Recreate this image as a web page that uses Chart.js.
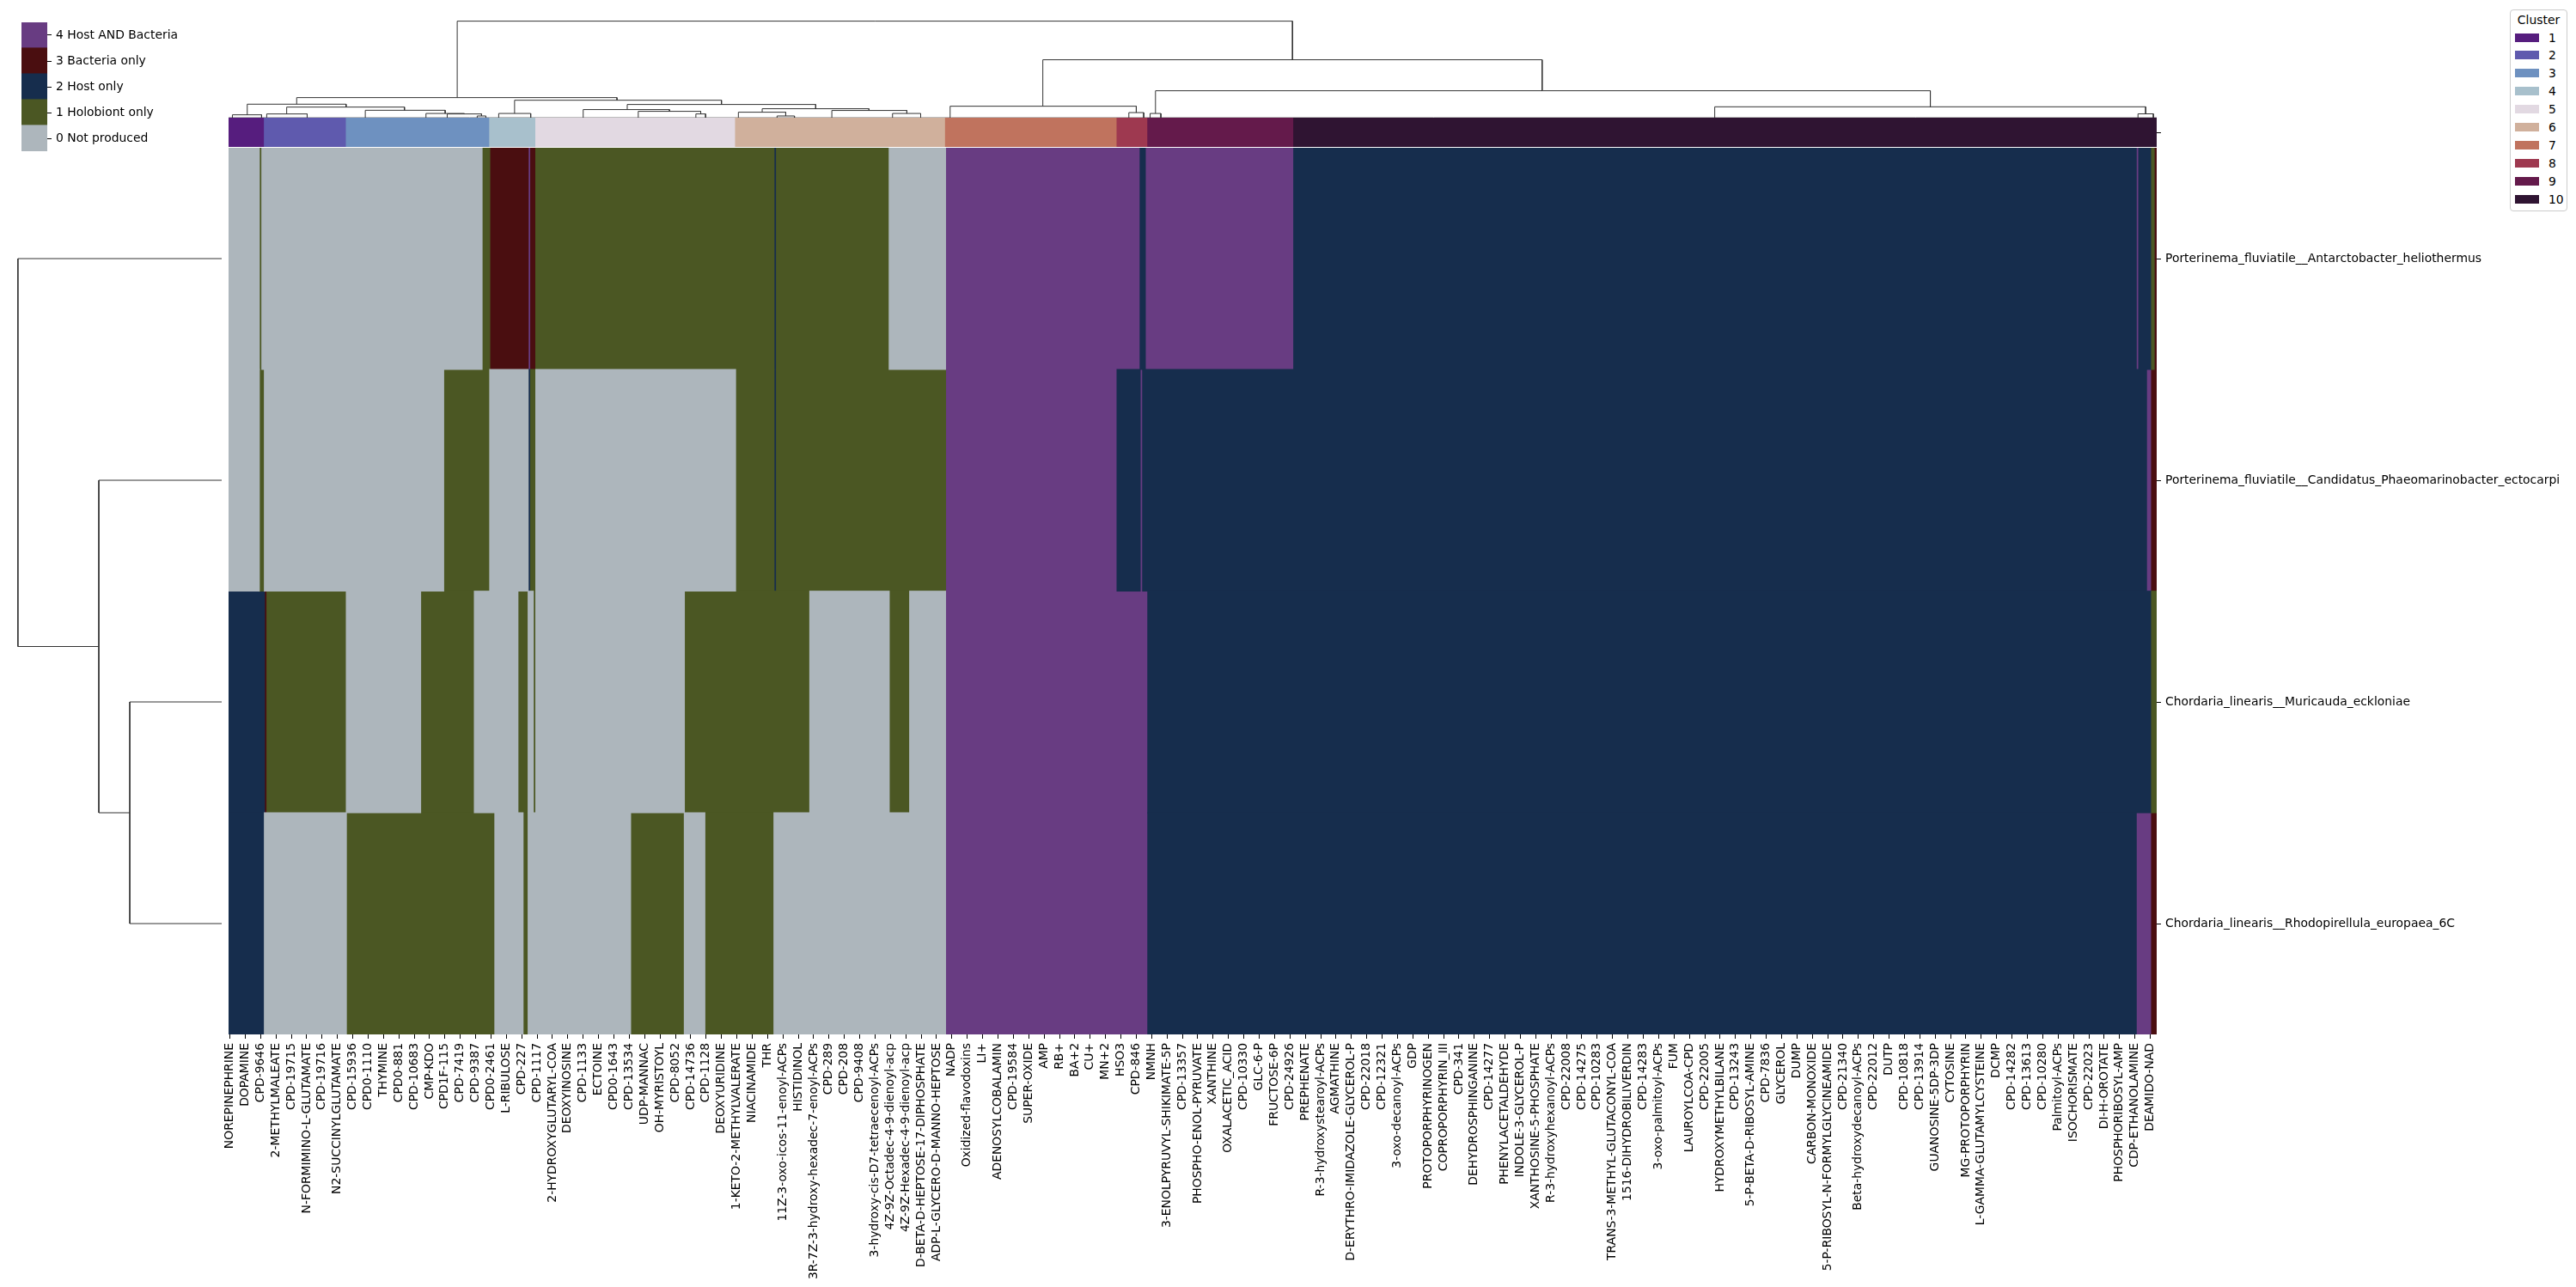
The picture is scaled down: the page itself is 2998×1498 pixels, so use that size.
<!DOCTYPE html>
<html>
<head>
<meta charset="utf-8">
<script src="https://cdn.jsdelivr.net/npm/chart.js@4/dist/chart.umd.min.js"></script>
<style>
  html, body { margin: 0; padding: 0; background: #fff; }
  #page { position: relative; width: 2998px; height: 1498px; overflow: hidden; font-family: "DejaVu Sans", sans-serif; color: #000; }
  #page canvas { position: absolute; }
  #clusterLegend { position: absolute; left: 2921px; top: 11px; width: 67px; height: 235px; box-sizing: border-box;
    border: 1px solid #cccccc; border-radius: 4px; font-size: 13.9px; }
  #clusterLegend .title { position: absolute; left: 0; right: 0; top: 3px; text-align: center; }
  #clusterLegend .swatch { position: absolute; left: 5px; width: 28px; height: 10px; }
  #clusterLegend .name { position: absolute; left: 44px; line-height: 16px; }
</style>
</head>
<body>
<div id="page"><div id="clusterLegend"></div></div>
<script>
// ---- data ----
const rowNames = [
    'Porterinema_fluviatile__Antarctobacter_heliothermus',
    'Porterinema_fluviatile__Candidatus_Phaeomarinobacter_ectocarpi',
    'Chordaria_linearis__Muricauda_eckloniae',
    'Chordaria_linearis__Rhodopirellula_europaea_6C'
];
const stateLabels = ['0 Not produced', '1 Holobiont only', '2 Host only', '3 Bacteria only', '4 Host AND Bacteria'];
const stateColors = ['#adb6bc', '#4b5723', '#162d4d', '#4a0e10', '#683c82'];

const nColumns = 753;
const labelStep = 6;   // only every 6th compound is labelled
const columnLabels = [
    'NOREPINEPHRINE', 'DOPAMINE', 'CPD-9646', '2-METHYLMALEATE', 'CPD-19715', 'N-FORMIMINO-L-GLUTAMATE',
    'CPD-19716', 'N2-SUCCINYLGLUTAMATE', 'CPD-15936', 'CPD0-1110', 'THYMINE', 'CPD0-881', 'CPD-10683',
    'CMP-KDO', 'CPD1F-115', 'CPD-7419', 'CPD-9387', 'CPD0-2461', 'L-RIBULOSE', 'CPD-227', 'CPD-1117',
    '2-HYDROXYGLUTARYL-COA', 'DEOXYINOSINE', 'CPD-1133', 'ECTOINE', 'CPD0-1643', 'CPD-13534', 'UDP-MANNAC',
    'OH-MYRISTOYL', 'CPD-8052', 'CPD-14736', 'CPD-1128', 'DEOXYURIDINE', '1-KETO-2-METHYLVALERATE',
    'NIACINAMIDE', 'THR', '11Z-3-oxo-icos-11-enoyl-ACPs', 'HISTIDINOL', '3R-7Z-3-hydroxy-hexadec-7-enoyl-ACPs',
    'CPD-289', 'CPD-208', 'CPD-9408', '3-hydroxy-cis-D7-tetraecenoyl-ACPs', '4Z-9Z-Octadec-4-9-dienoyl-acp',
    '4Z-9Z-Hexadec-4-9-dienoyl-acp', 'D-BETA-D-HEPTOSE-17-DIPHOSPHATE', 'ADP-L-GLYCERO-D-MANNO-HEPTOSE',
    'NADP', 'Oxidized-flavodoxins', 'LI+', 'ADENOSYLCOBALAMIN', 'CPD-19584', 'SUPER-OXIDE', 'AMP', 'RB+',
    'BA+2', 'CU+', 'MN+2', 'HSO3', 'CPD-846', 'NMNH', '3-ENOLPYRUVYL-SHIKIMATE-5P', 'CPD-13357',
    'PHOSPHO-ENOL-PYRUVATE', 'XANTHINE', 'OXALACETIC_ACID', 'CPD-10330', 'GLC-6-P', 'FRUCTOSE-6P',
    'CPD-24926', 'PREPHENATE', 'R-3-hydroxystearoyl-ACPs', 'AGMATHINE', 'D-ERYTHRO-IMIDAZOLE-GLYCEROL-P',
    'CPD-22018', 'CPD-12321', '3-oxo-decanoyl-ACPs', 'GDP', 'PROTOPORPHYRINOGEN', 'COPROPORPHYRIN_III',
    'CPD-341', 'DEHYDROSPHINGANINE', 'CPD-14277', 'PHENYLACETALDEHYDE', 'INDOLE-3-GLYCEROL-P',
    'XANTHOSINE-5-PHOSPHATE', 'R-3-hydroxyhexanoyl-ACPs', 'CPD-22008', 'CPD-14275', 'CPD-10283',
    'TRANS-3-METHYL-GLUTACONYL-COA', '1516-DIHYDROBILIVERDIN', 'CPD-14283', '3-oxo-palmitoyl-ACPs', 'FUM',
    'LAUROYLCOA-CPD', 'CPD-22005', 'HYDROXYMETHYLBILANE', 'CPD-13243', '5-P-BETA-D-RIBOSYL-AMINE',
    'CPD-7836', 'GLYCEROL', 'DUMP', 'CARBON-MONOXIDE', '5-P-RIBOSYL-N-FORMYLGLYCINEAMIDE', 'CPD-21340',
    'Beta-hydroxydecanoyl-ACPs', 'CPD-22012', 'DUTP', 'CPD-10818', 'CPD-13914', 'GUANOSINE-5DP-3DP',
    'CYTOSINE', 'MG-PROTOPORPHYRIN', 'L-GAMMA-GLUTAMYLCYSTEINE', 'DCMP', 'CPD-14282', 'CPD-13613',
    'CPD-10280', 'Palmitoyl-ACPs', 'ISOCHORISMATE', 'CPD-22023', 'DI-H-OROTATE', 'PHOSPHORIBOSYL-AMP',
    'CDP-ETHANOLAMINE', 'DEAMIDO-NAD'
];

const clusterIds = [1, 2, 3, 4, 5, 6, 7, 8, 9, 10];
const clusterColors = ['#561d7e', '#5f5aae', '#6e91c0', '#a8c0cc', '#e2d9e2',
                       '#d0b09c', '#c0735e', '#9e3950', '#641a4b', '#2f1432'];
const clusterEdges = [0, 14, 46, 102, 120, 198, 280, 347, 359, 416, 753];

// runs of [first column, end column, state] for each organism pair
const runsAntarctobacter = [
    [0, 12, 0], [12, 13, 1], [13, 99, 0], [99, 102, 1], [102, 117, 3], [117, 118, 4], [118, 120, 3],
    [120, 213, 1], [213, 214, 2], [214, 258, 1], [258, 280, 0], [280, 356, 4], [356, 358, 2],
    [358, 416, 4], [416, 745, 2], [745, 746, 4], [746, 751, 2], [751, 752, 1], [752, 753, 3]
];
const runsPhaeomarinobacter = [
    [0, 12, 0], [12, 14, 1], [14, 84, 0], [84, 102, 1], [102, 117, 0], [117, 118, 2], [118, 120, 1],
    [120, 198, 0], [198, 213, 1], [213, 214, 2], [214, 280, 1], [280, 347, 4], [347, 356, 2],
    [356, 357, 4], [357, 749, 2], [749, 751, 4], [751, 753, 3]
];
const runsMuricauda = [
    [0, 14, 2], [14, 15, 3], [15, 46, 1], [46, 75, 0], [75, 96, 1], [96, 113, 0], [113, 117, 1],
    [117, 119, 0], [119, 120, 1], [120, 178, 0], [178, 227, 1], [227, 258, 0], [258, 266, 1],
    [266, 280, 0], [280, 359, 4], [359, 751, 2], [751, 753, 1]
];
const runsRhodopirellula = [
    [0, 14, 2], [14, 46, 0], [46, 104, 1], [104, 115, 0], [115, 117, 1], [117, 157, 0], [157, 178, 1],
    [178, 186, 0], [186, 213, 1], [213, 280, 0], [280, 359, 4], [359, 745, 2], [745, 751, 4], [751, 753, 3]
];
const rowRuns = [runsAntarctobacter, runsPhaeomarinobacter, runsMuricauda, runsRhodopirellula];

// dendrogram links: [left child pos, right child pos, merge height, left child height, right child height]
const columnTree = [
    [89.3, 415.5, 100, 20.8, 60],
    [26.6, 151.7, 20.8, 14, 18.1],
    [7.3, 45.9, 14, 3, 11],
    [1.5, 12.9, 3, 0, 0],
    [22.7, 68.7, 11, 3.9, 7.7],
    [14.9, 30.7, 3.9, 0, 0],
    [53.4, 84.6, 7.7, 0, 4.4],
    [77.1, 92.1, 4.4, 0, 3.9],
    [85.4, 98.8, 3.9, 0, 1.8],
    [97.1, 100.5, 1.8, 0, 0],
    [111.7, 192.5, 18.1, 4.4, 13.7],
    [105.5, 118, 4.4, 0, 0],
    [155.7, 229.3, 13.7, 8.4, 9.3],
    [138.5, 172.2, 8.4, 0, 6.6],
    [160, 184.4, 6.6, 0, 3.9],
    [182.5, 186.3, 3.9, 0, 0],
    [208.4, 250.1, 9.3, 5.7, 7.5],
    [199.1, 217.6, 5.7, 0, 1.8],
    [214.2, 221, 1.8, 0, 0],
    [235.6, 264.9, 7.5, 0, 4.4],
    [259.3, 270.3, 4.4, 0, 0],
    [318, 513, 60, 11.9, 27.9],
    [281.8, 354.5, 11.9, 0, 5.3],
    [351.6, 357.4, 5.3, 0, 0],
    [362, 664.6, 27.9, 4.4, 11.3],
    [359.9, 364.1, 4.4, 0, 0],
    [580.4, 748.7, 11.3, 0, 4],
    [745.7, 751.7, 4, 0, 0]
];
const rowTree = [
    [0.5, 2.25, 100, 0, 60.3],
    [1.5, 3.0, 60.3, 0, 45.1],
    [2.5, 3.5, 45.1, 0, 0]
];

// ---- helpers ----
Chart.defaults.font.family = "'DejaVu Sans', sans-serif";
Chart.defaults.font.size = 13.9;
Chart.defaults.color = '#000';

const page = document.getElementById('page');
function makeCanvas(left, top, width, height) {
    const c = document.createElement('canvas');
    c.width = width;
    c.height = height;
    c.style.left = left + 'px';
    c.style.top = top + 'px';
    c.style.width = width + 'px';
    c.style.height = height + 'px';
    page.appendChild(c);
    return c;
}

const baseOptions = {
    responsive: false,
    animation: false,
    events: [],
    layout: { padding: 0 },
    plugins: { legend: { display: false }, tooltip: { enabled: false } }
};

function linkDatasets(links, alongX) {
    return links.map(([a, b, h, ha, hb]) => ({
        data: alongX
            ? [{ x: a, y: ha }, { x: a, y: h }, { x: b, y: h }, { x: b, y: hb }]
            : [{ x: ha, y: a }, { x: h, y: a }, { x: h, y: b }, { x: hb, y: b }],
        showLine: true,
        borderColor: '#333333',
        borderWidth: 1,
        pointRadius: 0,
        tension: 0,
        clip: false
    }));
}

// heatmap area: x 266..2510, y 172..1204
const heatLeft = 266, heatTop = 172, heatWidth = 2244, heatHeight = 1032;

// ---- heatmap ----
const heatDatasets = stateLabels.map((label, s) => ({
    label: label,
    data: [],
    backgroundColor: stateColors[s],
    borderWidth: 0,
    barPercentage: 1,
    categoryPercentage: 1,
    inflateAmount: 0.6,
    grouped: false
}));
rowRuns.forEach((runs, r) => {
    runs.forEach(([start, end, state]) => {
        heatDatasets[state].data.push({ x: [start, end], y: rowNames[r] });
    });
});

const padLeft = 16;
new Chart(makeCanvas(heatLeft - padLeft, heatTop, 2998 - heatLeft + padLeft, 1498 - heatTop), {
    type: 'bar',
    data: { labels: rowNames, datasets: heatDatasets },
    options: {
        ...baseOptions,
        layout: { padding: { left: padLeft, right: 0, top: 0, bottom: 0 } },
        indexAxis: 'y',
        scales: {
            x: {
                type: 'linear',
                min: 0,
                max: nColumns,
                position: 'bottom',
                border: { display: false },
                grid: { drawOnChartArea: false, tickLength: 5, tickColor: '#000', tickWidth: 1 },
                ticks: {
                    autoSkip: false,
                    minRotation: 90,
                    maxRotation: 90,
                    padding: 5,
                    callback: (value, index) => columnLabels[index]
                },
                afterBuildTicks: scale => {
                    scale.ticks = columnLabels.map((_, i) => ({ value: i * labelStep + 0.5 }));
                },
                afterFit: scale => {
                    scale.height = 1498 - heatTop - heatHeight;
                    scale.paddingLeft = 0;
                    scale.paddingRight = 0;
                }
            },
            y: {
                type: 'category',
                position: 'right',
                border: { display: false },
                grid: { drawOnChartArea: false, offset: false, tickLength: 5, tickColor: '#000' },
                ticks: { padding: 5 },
                afterFit: scale => {
                    scale.width = 2998 - heatLeft - heatWidth;
                    scale.paddingTop = 0;
                    scale.paddingBottom = 0;
                }
            }
        }
    }
});

// ---- cluster colour strip ----
new Chart(makeCanvas(heatLeft, 137, 2998 - heatLeft, 34), {
    type: 'bar',
    data: {
        labels: [''],
        datasets: [{
            data: clusterIds.map((id, i) => ({ x: [clusterEdges[i], clusterEdges[i + 1]], y: '' })),
            backgroundColor: clusterColors,
            borderWidth: 0,
            barPercentage: 1,
            categoryPercentage: 1,
            inflateAmount: 0.6
        }]
    },
    options: {
        ...baseOptions,
        indexAxis: 'y',
        scales: {
            x: { type: 'linear', min: 0, max: nColumns, display: false },
            y: {
                position: 'right',
                border: { display: false },
                grid: { drawOnChartArea: false, offset: false, tickLength: 5, tickColor: '#000' },
                afterFit: scale => {
                    scale.width = 2998 - heatLeft - heatWidth;
                    scale.paddingTop = 0;
                    scale.paddingBottom = 0;
                }
            }
        }
    }
});

// ---- column dendrogram ----
const colTreeData = linkDatasets(columnTree, true);
colTreeData.push({
    data: [{ x: 0, y: 0.3 }, { x: nColumns, y: 0.3 }],
    showLine: true, borderColor: '#b0b0b0', borderWidth: 1, pointRadius: 0, clip: false
});
new Chart(makeCanvas(heatLeft, 19, heatWidth, 118), {
    type: 'scatter',
    data: { datasets: colTreeData },
    options: {
        ...baseOptions,
        scales: {
            x: { type: 'linear', min: 0, max: nColumns, display: false },
            y: { type: 'linear', min: 0, max: 105, display: false }
        }
    }
});

// ---- row dendrogram ----
new Chart(makeCanvas(9, heatTop, 249, heatHeight), {
    type: 'scatter',
    data: { datasets: linkDatasets(rowTree, false) },
    options: {
        ...baseOptions,
        scales: {
            x: { type: 'linear', min: 0, max: 105, reverse: true, display: false },
            y: { type: 'linear', min: 0, max: rowNames.length, reverse: true, display: false }
        }
    }
});

// ---- state colour bar (legend) ----
new Chart(makeCanvas(25, 26, 235, 150), {
    type: 'bar',
    data: {
        labels: [''],
        datasets: stateLabels.map((label, s) => ({
            label: label,
            data: [1],
            backgroundColor: stateColors[s],
            borderWidth: 0,
            barPercentage: 1,
            categoryPercentage: 1,
            inflateAmount: 0.6
        }))
    },
    options: {
        ...baseOptions,
        scales: {
            x: { stacked: true, display: false },
            y: {
                stacked: true,
                min: 0,
                max: stateLabels.length,
                position: 'right',
                border: { display: false },
                grid: { drawOnChartArea: false, tickLength: 5, tickColor: '#000' },
                ticks: { padding: 5, callback: (value, index) => stateLabels[index] },
                afterBuildTicks: scale => {
                    scale.ticks = stateLabels.map((_, i) => ({ value: i + 0.5 }));
                },
                afterFit: scale => {
                    scale.width = 205;
                    scale.paddingTop = 0;
                    scale.paddingBottom = 0;
                }
            }
        }
    }
});

// ---- cluster legend ----
const legend = document.getElementById('clusterLegend');
const title = document.createElement('div');
title.className = 'title';
title.innerText = 'Cluster';
legend.appendChild(title);
clusterIds.forEach((id, i) => {
    const swatch = document.createElement('div');
    swatch.className = 'swatch';
    swatch.style.top = (26.5 + i * 20.9) + 'px';
    swatch.style.background = clusterColors[i];
    legend.appendChild(swatch);
    const name = document.createElement('div');
    name.className = 'name';
    name.style.top = (23.5 + i * 20.9) + 'px';
    name.innerText = id;
    legend.appendChild(name);
});
</script>
</body>
</html>
